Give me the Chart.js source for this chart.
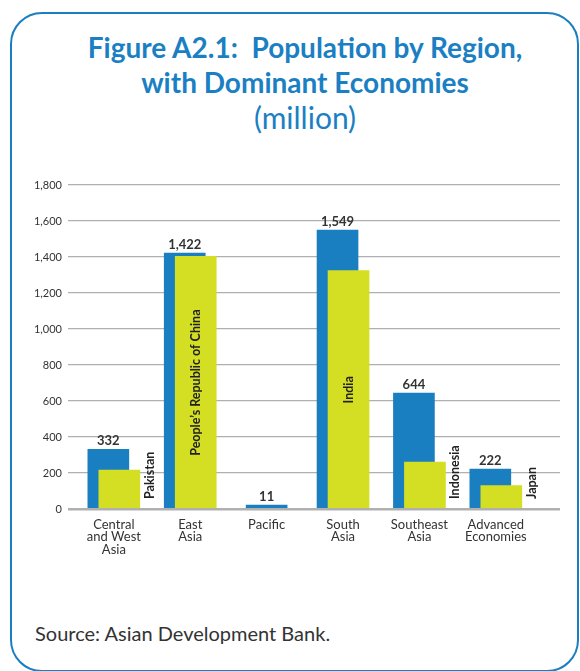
<!DOCTYPE html>
<html>
<head>
<meta charset="utf-8">
<script src="https://cdn.jsdelivr.net/npm/chart.js@4"></script>
<style>
  html, body { margin: 0; padding: 0; background: #fff; }
  body { width: 580px; height: 671px; position: relative; overflow: hidden; font-family: Lato, "Open Sans", sans-serif; }
  .frame {
    position: absolute; left: 10px; top: 12px; width: 569px; height: 660px;
    box-sizing: border-box; border: 2px solid #1a7fc1; border-radius: 32px;
  }
  .title {
    position: absolute; left: 0; width: 610px; top: 30px; text-align: center;
    color: #1b7fc3; font-size: 28px; line-height: 35px;
  }
  .title b { font-weight: 700; }
  .title .unit { font-weight: 400; font-size: 30px; }
  .source { position: absolute; left: 35px; top: 621px; font-size: 20px; color: #333; }
  #wrap { position: absolute; left: 0; top: 170px; width: 580px; height: 400px; }
</style>
</head>
<body>
<div class="frame"></div>
<div class="title"><b>Figure A2.1:&nbsp; Population by Region,</b><br><b>with Dominant Economies</b><br><span class="unit">(million)</span></div>
<div id="wrap"><canvas id="chart"></canvas></div>
<div class="source">Source: Asian Development Bank.</div>

<script>
// Chart data
const categories = [
  ["Central", "and West", "Asia"],
  ["East", "Asia"],
  ["Pacific"],
  ["South", "Asia"],
  ["Southeast", "Asia"],
  ["Advanced", "Economies"],
];
const regionTotals = [332, 1422, 11, 1549, 644, 222];
const dominantValues = [216, 1404, null, 1325, 260, 130];
const dominantNames = ["Pakistan", "People\u2019s Republic of China", null, "India", "Indonesia", "Japan"];
const nameInsideBar = [false, true, false, true, false, false];
const yTicks = [0, 200, 400, 600, 800, 1000, 1200, 1400, 1600, 1800];

const BLUE = "#1a7fc1";
const GREEN = "#d4de23";
const FONT = "Lato, 'Open Sans', sans-serif";

// bars sit a little either side of the category centre; single bars stay centred
const blueData = regionTotals.map((v, i) => ({
  x: dominantValues[i] == null ? i : i - 0.072,
  y: v,
}));
const greenData = dominantValues
  .map((v, i) => ({ x: i + 0.072, y: v }))
  .filter((d) => d.y != null);

// value labels above blue bars, economy names on green bars
const barLabels = {
  id: "barLabels",
  afterDatasetsDraw(chart) {
    const ctx = chart.ctx;
    const blueMeta = chart.getDatasetMeta(0);
    ctx.save();
    ctx.fillStyle = "#333";
    ctx.font = "bold 13px " + FONT;
    ctx.textAlign = "center";
    ctx.textBaseline = "bottom";
    blueMeta.data.forEach((bar, i) => {
      ctx.fillText(regionTotals[i].toLocaleString("en-US"), bar.x, bar.y - 2);
    });

    const greenMeta = chart.getDatasetMeta(1);
    const base = chart.scales.y.getPixelForValue(0);
    ctx.font = "bold 12.5px " + FONT;
    ctx.fillStyle = "#222";
    let k = 0;
    dominantValues.forEach((v, i) => {
      if (v == null) return;
      const bar = greenMeta.data[k++];
      ctx.save();
      if (nameInsideBar[i]) {
        ctx.translate(bar.x, (bar.y + base) / 2);
        ctx.rotate(-Math.PI / 2);
        ctx.textAlign = "center";
        ctx.textBaseline = "middle";
      } else {
        ctx.translate(bar.x + bar.width / 2 + 10, base - 10);
        ctx.rotate(-Math.PI / 2);
        ctx.textAlign = "left";
        ctx.textBaseline = "middle";
      }
      ctx.fillText(dominantNames[i], 0, 0);
      ctx.restore();
    });
    ctx.restore();
  },
};

const ctx = document.getElementById("chart").getContext("2d");
new Chart(ctx, {
  type: "bar",
  data: {
    datasets: [
      {
        label: "Region",
        data: blueData,
        backgroundColor: BLUE,
        barThickness: 41,
        minBarLength: 4,
        grouped: false,
        order: 2,
      },
      {
        label: "Dominant economy",
        data: greenData,
        backgroundColor: GREEN,
        barThickness: 41,
        grouped: false,
        order: 1,
      },
    ],
  },
  options: {
    responsive: true,
    maintainAspectRatio: false,
    animation: false,
    layout: { padding: { top: 15, right: 20, left: 0, bottom: 0 } },
    plugins: {
      legend: { display: false },
      tooltip: { enabled: false },
    },
    scales: {
      x: {
        type: "linear",
        offset: false,
        min: -0.6,
        max: 5.84,
        afterBuildTicks: (scale) => {
          scale.ticks = categories.map((c, i) => ({ value: i }));
        },
        afterFit: (scale) => {
          scale.height = 61;
        },
        grid: { display: false },
        border: { display: false },
        ticks: {
          autoSkip: false,
          maxRotation: 0,
          padding: 1,
          color: "#333",
          font: { family: FONT, size: 13, lineHeight: 0.98 },
          callback: (value) => categories[value],
        },
      },
      y: {
        min: 0,
        max: 1800,
        afterBuildTicks: (scale) => {
          scale.ticks = yTicks.map((v) => ({ value: v }));
        },
        afterFit: (scale) => {
          scale.width = 68;
        },
        border: { display: false },
        grid: {
          drawTicks: false,
          color: "#b0b0b0",
          lineWidth: (c) => (c.tick && c.tick.value === 0 ? 2.5 : 1.3),
        },
        ticks: {
          padding: 6,
          color: "#333",
          font: { family: FONT, size: 11 },
          callback: (value) => value.toLocaleString("en-US"),
        },
      },
    },
  },
  plugins: [barLabels],
});
</script>
</body>
</html>
